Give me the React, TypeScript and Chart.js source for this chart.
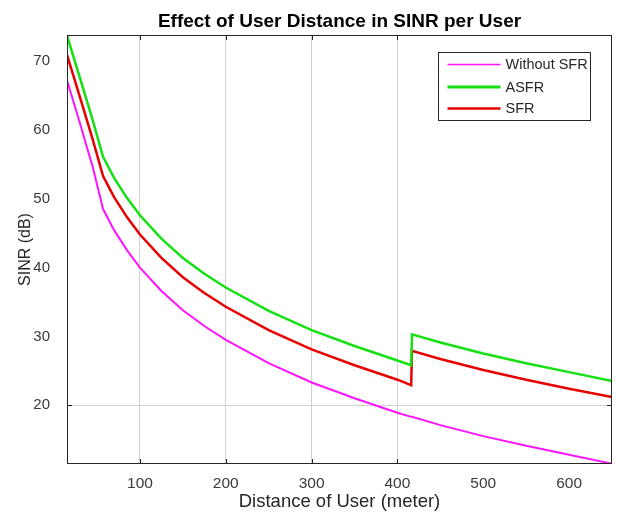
import React, { useEffect, useRef } from 'react';
import { Chart, registerables } from 'chart.js';

Chart.register(...registerables);

// ---- data ----
const distances = [15, 30, 45, 57, 70, 85, 100, 125, 150, 175, 200, 250, 300, 350, 400, 416, 417, 450, 500, 550, 600, 650];
const withoutSFR = [67.2, 61.0, 54.6, 48.5, 45.4, 42.5, 40.0, 36.6, 33.8, 31.5, 29.5, 26.1, 23.3, 21.0, 18.9, 18.3, 18.3, 17.1, 15.5, 14.1, 12.8, 11.5];
const asfr = [73.7, 67.6, 61.4, 56.1, 53.0, 50.1, 47.6, 44.2, 41.4, 39.1, 37.1, 33.7, 30.9, 28.6, 26.5, 25.8, 30.3, 29.1, 27.5, 26.1, 24.8, 23.5];
const sfr = [70.9, 64.8, 58.6, 53.3, 50.2, 47.3, 44.8, 41.4, 38.6, 36.3, 34.3, 30.9, 28.1, 25.8, 23.7, 22.9, 27.9, 26.7, 25.1, 23.7, 22.4, 21.2];

const seriesNames = ['Without SFR', 'ASFR', 'SFR'];
const seriesColors = ['#ff14ff', '#14e014', '#e80000'];
const seriesWidths = [2, 2.5, 2.5];
const legendWidths = [1.5, 3, 2.5];

const xTickValues = [100, 200, 300, 400, 500, 600];
const yTickValues = [20, 30, 40, 50, 60, 70];
const xGridValues = [100, 200, 300, 400];
const yGridValues = [20];
const xMin = 15;
const xMax = 650;
const yMin = 11.45;
const yMax = 73.8;

const chartTitle = 'Effect of User Distance in SINR per User';
const xTitle = 'Distance of User (meter)';
const yTitle = 'SINR (dB)';

const FONT = "'Liberation Sans', Arial, Helvetica, sans-serif";
const AXIS_COLOR = '#262626';
const GRID_COLOR = '#d2d2d2';
const TICK_COLOR = '#3a3a3a';

const decorPlugin = {
  id: 'decor',
  afterDatasetsDraw(chart: any) {
    const { ctx, chartArea, scales } = chart;
    const { left, right, top, bottom } = chartArea;
    const x = scales.x;
    const y = scales.y;
    ctx.save();
    // box
    ctx.strokeStyle = AXIS_COLOR;
    ctx.lineWidth = 1;
    ctx.strokeRect(Math.round(left) + 0.5, Math.round(top) + 0.5, Math.round(right - left) - 1, Math.round(bottom - top) - 1);
    // inward tick marks
    const tl = 5;
    ctx.beginPath();
    xGridValues.forEach((v) => {
      const px = Math.round(x.getPixelForValue(v)) + 0.5;
      ctx.moveTo(px, bottom);
      ctx.lineTo(px, bottom - tl);
      ctx.moveTo(px, top);
      ctx.lineTo(px, top + tl);
    });
    yGridValues.forEach((v) => {
      const py = Math.round(y.getPixelForValue(v)) + 0.5;
      ctx.moveTo(left, py);
      ctx.lineTo(left + tl, py);
      ctx.moveTo(right, py);
      ctx.lineTo(right - tl, py);
    });
    ctx.stroke();

    // legend
    const bRight = Math.round(right - 22) + 0.5;
    const by = Math.round(top + 17) + 0.5;
    const bw = 152;
    const bh = 68;
    const bx = bRight - bw;
    ctx.fillStyle = '#ffffff';
    ctx.fillRect(bx, by, bw, bh);
    ctx.strokeStyle = AXIS_COLOR;
    ctx.lineWidth = 1;
    ctx.strokeRect(bx, by, bw, bh);
    const rows = [12, 34.5, 56];
    ctx.font = `14.5px ${FONT}`;
    ctx.textBaseline = 'middle';
    ctx.textAlign = 'left';
    seriesNames.forEach((name, i) => {
      const ry = by + rows[i];
      ctx.strokeStyle = seriesColors[i];
      ctx.lineWidth = legendWidths[i];
      ctx.beginPath();
      ctx.moveTo(bx + 9, ry);
      ctx.lineTo(bx + 62, ry);
      ctx.stroke();
      ctx.fillStyle = '#262626';
      ctx.fillText(name, bx + 67, ry + 0.5);
    });

    // title
    ctx.font = `bold 19px ${FONT}`;
    ctx.fillStyle = '#000000';
    ctx.textAlign = 'center';
    ctx.textBaseline = 'middle';
    ctx.fillText(chartTitle, (left + right) / 2, 22);
    ctx.restore();
  },
};

export default function App() {
  const canvasRef = useRef<HTMLCanvasElement | null>(null);

  useEffect(() => {
    document.body.style.margin = '0';
    const canvas = canvasRef.current;
    if (!canvas) return;
    const mk = (vals: number[]) => distances.map((d, i) => ({ x: d, y: vals[i] }));
    const allSeries = [withoutSFR, asfr, sfr];
    const chart = new Chart(canvas, {
      type: 'line',
      data: {
        datasets: allSeries.map((vals, i) => ({
          label: seriesNames[i],
          data: mk(vals),
          borderColor: seriesColors[i],
          backgroundColor: seriesColors[i],
          borderWidth: seriesWidths[i],
          pointRadius: 0,
          tension: 0,
          fill: false,
        })),
      },
      options: {
        animation: false,
        responsive: false,
        events: [],
        layout: { padding: { top: 35, right: 5, left: 0, bottom: 0 } },
        plugins: {
          legend: { display: false },
          title: { display: false },
          tooltip: { enabled: false },
        },
        scales: {
          x: {
            type: 'linear',
            min: xMin,
            max: xMax,
            afterBuildTicks: (s: any) => {
              s.ticks = xTickValues.map((v) => ({ value: v }));
            },
            afterFit: (s: any) => {
              s.height = 53;
            },
            ticks: {
              padding: 10,
              color: TICK_COLOR,
              font: { family: FONT, size: 15.5 },
              maxRotation: 0,
              autoSkip: false,
            },
            grid: {
              drawTicks: false,
              color: (c: any) => (c.tick && xGridValues.includes(c.tick.value) ? GRID_COLOR : 'rgba(0,0,0,0)'),
              lineWidth: 1,
            },
            border: { display: false },
            title: {
              display: true,
              text: xTitle,
              color: '#262626',
              font: { family: FONT, size: 18.5 },
              padding: { top: 0, bottom: 4 },
            },
          },
          y: {
            type: 'linear',
            min: yMin,
            max: yMax,
            afterBuildTicks: (s: any) => {
              s.ticks = yTickValues.map((v) => ({ value: v }));
            },
            afterFit: (s: any) => {
              s.width = 67;
            },
            ticks: {
              padding: 17,
              color: TICK_COLOR,
              font: { family: FONT, size: 15 },
              autoSkip: false,
            },
            grid: {
              drawTicks: false,
              color: (c: any) => (c.tick && yGridValues.includes(c.tick.value) ? GRID_COLOR : 'rgba(0,0,0,0)'),
              lineWidth: 1,
            },
            border: { display: false },
            title: {
              display: true,
              text: yTitle,
              color: '#262626',
              font: { family: FONT, size: 16 },
              padding: { top: 15.5, bottom: 0 },
            },
          },
        },
      },
      plugins: [decorPlugin],
    } as any);
    return () => chart.destroy();
  }, []);

  return (
    <div style={{ width: 617, height: 517, background: '#ffffff' }}>
      <canvas ref={canvasRef} width={617} height={517} />
    </div>
  );
}
